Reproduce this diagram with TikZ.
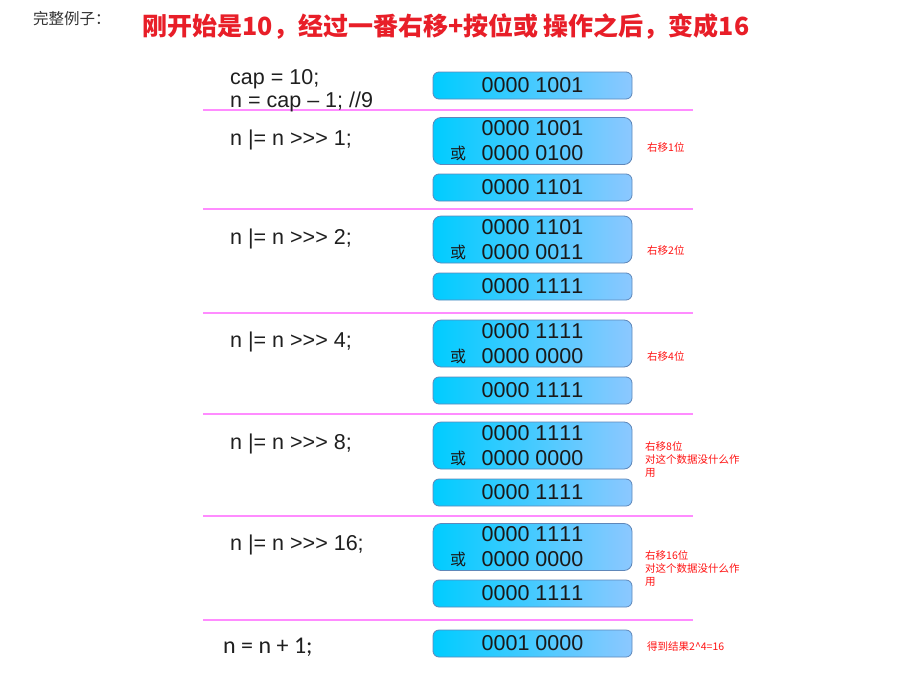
\documentclass[tikz,border=0pt]{standalone}
\usepackage{fontspec}
\setmainfont{Liberation Sans}[Ligatures=TeXOff,Kerning=Off]
\newfontfamily\cjk{Noto Sans CJK SC}
\newfontfamily\calib{Carlito}
\usetikzlibrary{positioning}
\definecolor{sepc}{RGB}{255,140,255}
\definecolor{boxl}{RGB}{0,204,255}
\definecolor{boxr}{RGB}{140,200,255}
\definecolor{boxd}{RGB}{95,135,185}
\definecolor{titlered}{RGB}{232,30,40}
\definecolor{notered}{RGB}{255,20,20}
\tikzset{
  sepline/.style={draw=sepc, line width=1.3pt},
  bitbox/.style={draw=boxd, line width=0.8pt, rounded corners=6pt, left color=boxl, right color=boxr,
                 minimum width=199pt, minimum height=27pt, inner sep=0pt},
  bigbox/.style={bitbox, rounded corners=8pt, minimum height=47pt},
  codetxt/.style={anchor=base west, inner sep=0pt, text=black!88, font=\fontsize{21.5}{24}\selectfont},
  bits/.style={inner sep=0pt, text=black!90, font=\fontsize{21.5}{24}\selectfont},
  orlbl/.style={inner sep=0pt, text=black!90, font=\cjk\fontsize{16}{18}\selectfont},
  note/.style={anchor=north west, align=left, inner sep=0pt, text=notered, font=\cjk\fontsize{10.5}{13}\selectfont},
}
\begin{document}
\begin{tikzpicture}[x=1pt,y=-1pt]
\useasboundingbox[fill=white] (0,0) rectangle (921,678);

% header
\node[anchor=west, inner sep=0pt, text=black!80, font=\cjk\fontsize{15.5}{17}\selectfont] (hdr) at (33,19) {完整例子：};
\node[inner sep=0pt, text=titlered, font=\cjk\bfseries\fontsize{25}{28}\selectfont] (title) at (446,27)
  {刚开始是10，经过一番右移+按位或 操作之后，变成16};

% separators
\foreach \yy in {110,209,313,414,516,620}
  \draw[sepline] (203,\yy) -- (693,\yy);

% code texts
\node[codetxt] (c0a) at (230,84) {cap = 10;};
\node[codetxt] (c0b) at (230,107) {n = cap – 1; //9};
\node[codetxt] (c1) at (230,145) {n |= n >{}>{}> 1;};
\node[codetxt] (c2) at (230,244) {n |= n >{}>{}> 2;};
\node[codetxt] (c3) at (230,347) {n |= n >{}>{}> 4;};
\node[codetxt] (c4) at (230,449) {n |= n >{}>{}> 8;};
\node[codetxt] (c5) at (230,550) {n |= n >{}>{}> 16;};
\node[codetxt, font=\calib\fontsize{24}{26}\selectfont] (c6) at (223,653) {n = n + 1;};

% first box
\node[bitbox] (b0) at (532.5,85.5) {};
\node[bits] (t0) at (b0.center) {0000 1001};

% sections
\foreach \i/\cy/\sy/\va/\vb/\vr in {1/141/187.5/0000 1001/0000 0100/0000 1101,
                                     2/239.5/286.5/0000 1101/0000 0011/0000 1111,
                                     3/343.5/390.5/0000 1111/0000 0000/0000 1111,
                                     4/445.5/492.5/0000 1111/0000 0000/0000 1111,
                                     5/547/593.5/0000 1111/0000 0000/0000 1111}{
  \node[bigbox] (bb\i) at (532.5,\cy) {};
  \node[bits] (ta\i) at ([yshift=12.5pt]bb\i.center) {\va};
  \node[bits] (tb\i) at ([yshift=-12.5pt]bb\i.center) {\vb};
  \node[orlbl] (or\i) at ([xshift=-74.5pt,yshift=-12.5pt]bb\i.center) {或};
  \node[bitbox] (rb\i) at (532.5,\sy) {};
  \node[bits] (tr\i) at (rb\i.center) {\vr};
}

% final box
\node[bitbox] (bf) at (532.5,643.5) {};
\node[bits] (tf) at (bf.center) {0001 0000};

% notes
\node[note, anchor=west] (n1) at (647,147) {右移1位};
\node[note, anchor=west] (n2) at (647,250) {右移2位};
\node[note, anchor=west] (n3) at (647,356) {右移4位};
\node[note] (n4) at (645,441) {右移8位\\对这个数据没什么作\\用};
\node[note] (n5) at (645,550) {右移16位\\对这个数据没什么作\\用};
\node[note, anchor=west] (n6) at (647,646) {得到结果2\textasciicircum 4=16};
\end{tikzpicture}
\end{document}
